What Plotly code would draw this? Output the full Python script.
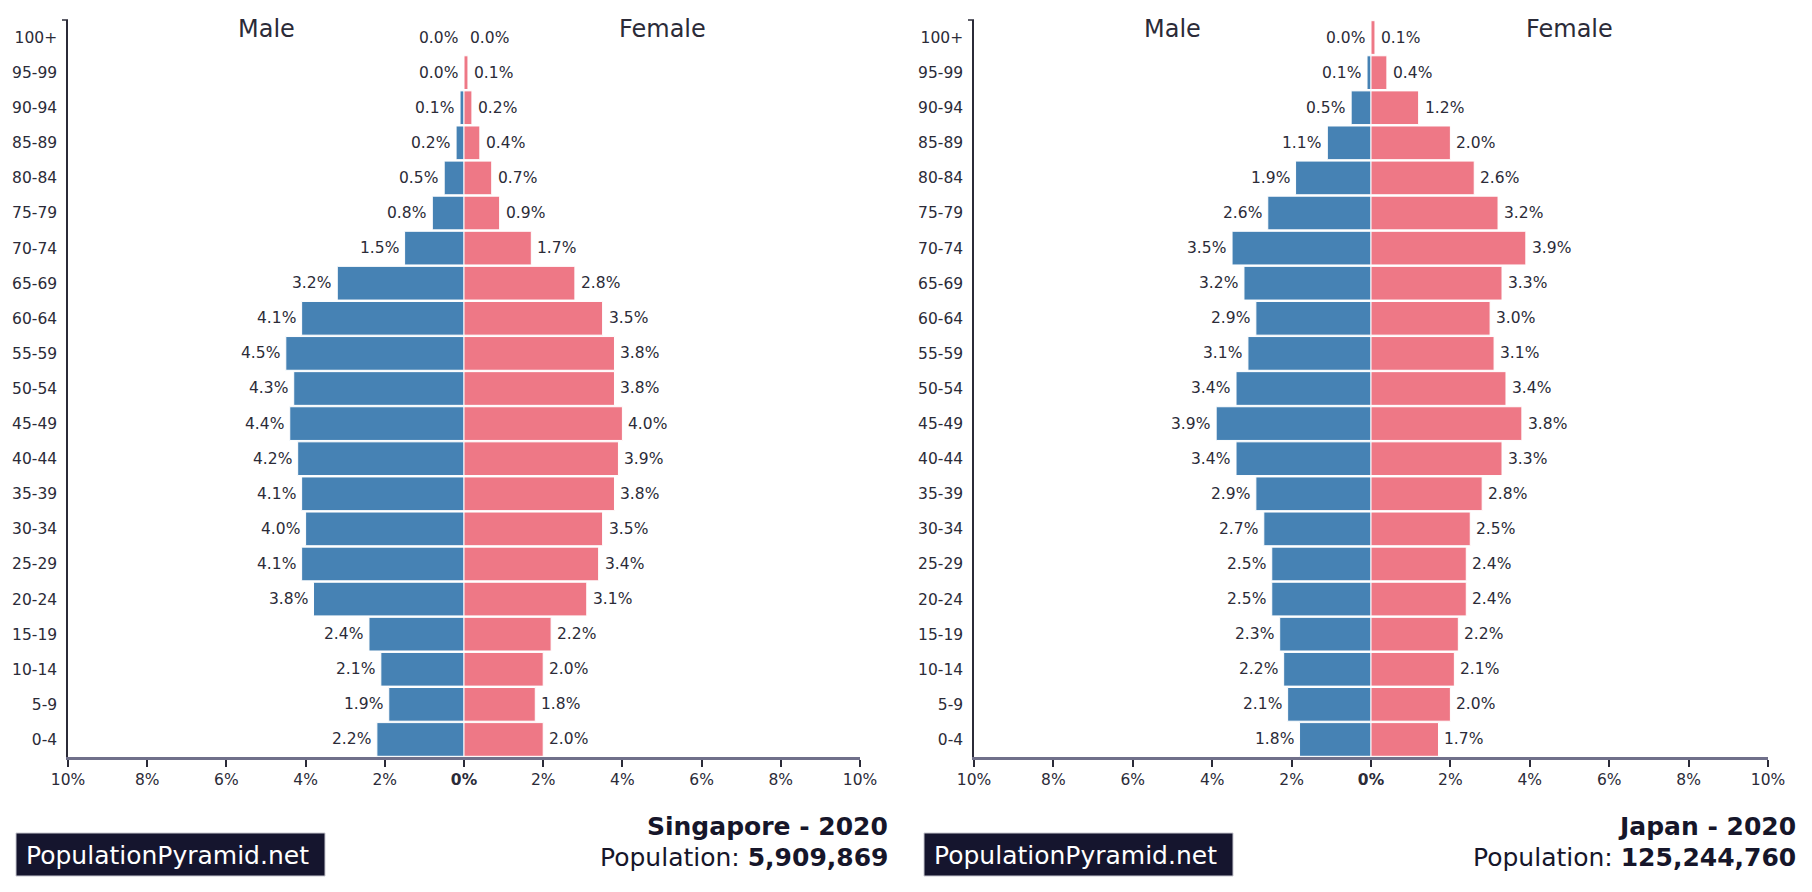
import plotly.graph_objects as go

ages = ["0-4", "5-9", "10-14", "15-19", "20-24", "25-29", "30-34", "35-39", "40-44",
        "45-49", "50-54", "55-59", "60-64", "65-69", "70-74", "75-79", "80-84", "85-89",
        "90-94", "95-99", "100+"]

sg_male = [2.2, 1.9, 2.1, 2.4, 3.8, 4.1, 4.0, 4.1, 4.2, 4.4, 4.3, 4.5, 4.1, 3.2, 1.5, 0.8, 0.5, 0.2, 0.1, 0.0, 0.0]
sg_female = [2.0, 1.8, 2.0, 2.2, 3.1, 3.4, 3.5, 3.8, 3.9, 4.0, 3.8, 3.8, 3.5, 2.8, 1.7, 0.9, 0.7, 0.4, 0.2, 0.1, 0.0]

jp_male = [1.8, 2.1, 2.2, 2.3, 2.5, 2.5, 2.7, 2.9, 3.4, 3.9, 3.4, 3.1, 2.9, 3.2, 3.5, 2.6, 1.9, 1.1, 0.5, 0.1, 0.0]
jp_female = [1.7, 2.0, 2.1, 2.2, 2.4, 2.4, 2.5, 2.8, 3.3, 3.8, 3.4, 3.1, 3.0, 3.3, 3.9, 3.2, 2.6, 2.0, 1.2, 0.4, 0.1]

panels = [
    {"country": "Singapore - 2020", "population": "5,909,869", "male": sg_male, "female": sg_female},
    {"country": "Japan - 2020", "population": "125,244,760", "male": jp_male, "female": jp_female},
]

tick_vals = [-10, -8, -6, -4, -2, 0, 2, 4, 6, 8, 10]
tick_text = [f"<b>{abs(v)}%</b>" if v == 0 else f"{abs(v)}%" for v in tick_vals]

W, H = 1812, 892
MALE_C = "#4682B4"
FEMALE_C = "#EE7886"
TXT = "#2b2b38"
FONT = "DejaVu Sans"
LBL = 15.5

x_domains = [[68 / W, 860 / W], [974 / W, 1768 / W]]
y_domain = [1 - 757 / H, 1 - 20 / H]

fig = go.Figure()
annotations = []
shapes = []

for i, p in enumerate(panels):
    xa = "x" if i == 0 else "x2"
    ya = "y" if i == 0 else "y2"
    fig.add_trace(go.Bar(
        y=ages, x=[-v for v in p["male"]], orientation="h", xaxis=xa, yaxis=ya,
        marker=dict(color=MALE_C, line=dict(color="white", width=1)),
        showlegend=False, hoverinfo="skip"))
    fig.add_trace(go.Bar(
        y=ages, x=p["female"], orientation="h", xaxis=xa, yaxis=ya,
        marker=dict(color=FEMALE_C, line=dict(color="white", width=1)),
        showlegend=False, hoverinfo="skip"))

    for age, m, f in zip(ages, p["male"], p["female"]):
        annotations.append(dict(x=-m, y=age, xref=xa, yref=ya, text=f"{m:.1f}%",
                                xanchor="right", yanchor="middle", xshift=-4, showarrow=False,
                                font=dict(family=FONT, size=LBL, color=TXT)))
        annotations.append(dict(x=f, y=age, xref=xa, yref=ya, text=f"{f:.1f}%",
                                xanchor="left", yanchor="middle", xshift=4, showarrow=False,
                                font=dict(family=FONT, size=LBL, color=TXT)))

    # Male / Female headers
    annotations.append(dict(x=-5, y=1 - 29 / H, xref=xa, yref="paper", text="Male",
                            yanchor="middle", showarrow=False,
                            font=dict(family=FONT, size=24, color=TXT)))
    annotations.append(dict(x=5, y=1 - 29 / H, xref=xa, yref="paper", text="Female",
                            yanchor="middle", showarrow=False,
                            font=dict(family=FONT, size=24, color=TXT)))

    right_px = 890 if i == 0 else 1798
    annotations.append(dict(x=right_px / W, y=1 - 826 / H, xref="paper", yref="paper",
                            xanchor="right", yanchor="middle", showarrow=False,
                            text=f"<b>{p['country']}</b>",
                            font=dict(family=FONT, size=25, color="#16162a")))
    annotations.append(dict(x=right_px / W, y=1 - 857 / H, xref="paper", yref="paper",
                            xanchor="right", yanchor="middle", showarrow=False,
                            text=f"Population: <b>{p['population']}</b>",
                            font=dict(family=FONT, size=25, color="#16162a")))

    bx0 = 16 if i == 0 else 924
    bx1 = 325 if i == 0 else 1233
    shapes.append(dict(type="rect", xref="paper", yref="paper",
                       x0=bx0 / W, x1=bx1 / W, y0=1 - 876 / H, y1=1 - 833 / H,
                       fillcolor="#15152e", line=dict(color="#c8c8d0", width=1), layer="below"))
    annotations.append(dict(x=(bx0 + 8) / W, y=1 - 855 / H, xref="paper", yref="paper",
                            xanchor="left", yanchor="middle", showarrow=False,
                            text="PopulationPyramid.net",
                            font=dict(family=FONT, size=25, color="white")))

    # small outer tick at top of y axis
    ax_x = x_domains[i][0] * W
    shapes.append(dict(type="line", xref="paper", yref="paper",
                       x0=(ax_x - 6) / W, x1=ax_x / W, y0=y_domain[1], y1=y_domain[1],
                       line=dict(color="#2b2b38", width=1.5)))

xaxis_common = dict(range=[-10, 10], tickmode="array", tickvals=tick_vals, ticktext=tick_text,
                    showgrid=False, zeroline=False, showline=True, linecolor="#70708a", linewidth=2.5,
                    ticks="outside", ticklen=7, tickwidth=1.5, tickcolor="#2b2b38", automargin=False,
                    tickfont=dict(family=FONT, size=LBL, color=TXT), fixedrange=True)
yaxis_common = dict(range=[-0.5, 20.5], showgrid=False, zeroline=False, showline=True,
                    linecolor="#2b2b38", linewidth=1.5, ticks="", ticklabelstandoff=6,
                    automargin=False, fixedrange=True,
                    tickfont=dict(family=FONT, size=LBL, color=TXT), domain=y_domain,
                    type="category", categoryorder="array", categoryarray=ages)

fig.update_layout(
    width=W, height=H, margin=dict(l=0, r=0, t=0, b=0, autoexpand=False),
    paper_bgcolor="white", plot_bgcolor="white",
    barmode="overlay", bargap=0.04,
    xaxis=dict(xaxis_common, domain=x_domains[0], anchor="y"),
    yaxis=dict(yaxis_common, anchor="x"),
    xaxis2=dict(xaxis_common, domain=x_domains[1], anchor="y2"),
    yaxis2=dict(yaxis_common, anchor="x2"),
    annotations=annotations, shapes=shapes,
)

fig.write_html("out.html")
